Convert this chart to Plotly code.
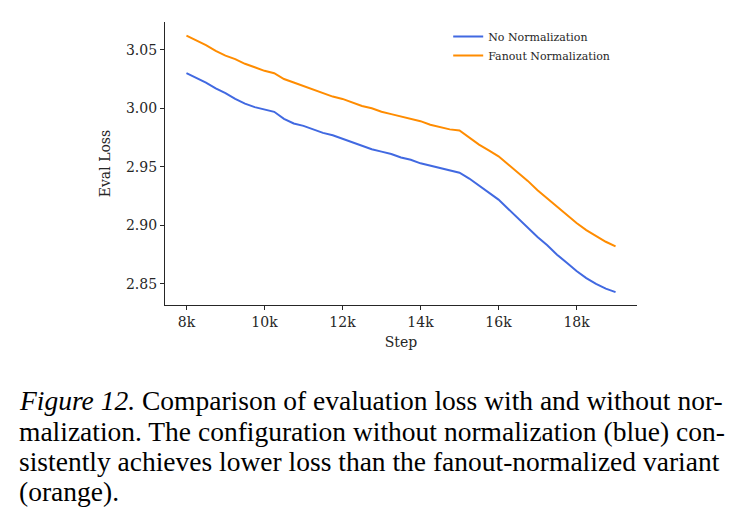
import plotly.graph_objects as go

steps = [8000 + 250 * i for i in range(45)]

no_norm = [3.030, 3.026, 3.022, 3.017, 3.013, 3.008, 3.004, 3.001, 2.999, 2.997,
           2.991, 2.987, 2.985, 2.982, 2.979, 2.977, 2.974, 2.971, 2.968, 2.965,
           2.963, 2.961, 2.958, 2.956, 2.953, 2.951, 2.949, 2.947, 2.945, 2.940,
           2.934, 2.928, 2.922, 2.914, 2.906, 2.898, 2.890, 2.883, 2.875, 2.868,
           2.861, 2.855, 2.850, 2.846, 2.843]

fanout_norm = [3.062, 3.058, 3.054, 3.049, 3.045, 3.042, 3.038, 3.035, 3.032, 3.030,
               3.025, 3.022, 3.019, 3.016, 3.013, 3.010, 3.008, 3.005, 3.002, 3.000,
               2.997, 2.995, 2.993, 2.991, 2.989, 2.986, 2.984, 2.982, 2.981, 2.975,
               2.969, 2.964, 2.959, 2.952, 2.945, 2.938, 2.930, 2.923, 2.916, 2.909,
               2.902, 2.896, 2.891, 2.886, 2.882]

x_tickvals = [8000, 10000, 12000, 14000, 16000, 18000]
x_ticktext = ["8k", "10k", "12k", "14k", "16k", "18k"]
y_tickvals = [2.85, 2.90, 2.95, 3.00, 3.05]
y_ticktext = ["2.85", "2.90", "2.95", "3.00", "3.05"]

caption_lines = [
    "<i>Figure 12.</i> Comparison of evaluation loss with and without nor-",
    "malization. The configuration without normalization (blue) con-",
    "sistently achieves lower loss than the fanout-normalized variant",
    "(orange).",
]

FONT = "'DejaVu Serif', serif"
CAPFONT = "'Liberation Serif', 'Times New Roman', serif"

fig = go.Figure()
fig.add_trace(go.Scatter(x=steps, y=no_norm, mode="lines", name="No Normalization",
                         line=dict(color="#4169E1", width=2)))
fig.add_trace(go.Scatter(x=steps, y=fanout_norm, mode="lines", name="Fanout Normalization",
                         line=dict(color="#FF8C00", width=2)))

axis_common = dict(showgrid=False, zeroline=False, showline=True, linecolor="#262626",
                   linewidth=1.2, ticks="outside", ticklen=4, tickwidth=1.2,
                   tickcolor="#262626", mirror=False,
                   tickfont=dict(family=FONT, size=14, color="#262626"))

fig.update_layout(
    width=739, height=518,
    margin=dict(l=165, r=102, t=22, b=213),
    paper_bgcolor="white", plot_bgcolor="white",
    font=dict(family=FONT, color="#262626"),
    xaxis=dict(range=[7450, 19550], tickvals=x_tickvals, ticktext=x_ticktext,
               title=dict(text="Step", font=dict(family=FONT, size=14), standoff=8),
               **axis_common),
    yaxis=dict(range=[2.832, 3.0737], tickvals=y_tickvals, ticktext=y_ticktext,
               title=dict(text="Eval Loss", font=dict(family=FONT, size=14), standoff=12),
               **axis_common),
    legend=dict(x=0.6, y=1.0, xanchor="left", yanchor="top",
                font=dict(family=FONT, size=11, color="#262626"),
                bgcolor="rgba(255,255,255,0)", tracegroupgap=0),
    showlegend=True,
)

caption_y = [400, 431, 461, 491]
for line, yp in zip(caption_lines, caption_y):
    fig.add_annotation(text=line, xref="paper", yref="paper",
                       x=(17 - 165) / 472, y=(305 - yp) / 283,
                       xanchor="left", yanchor="middle", showarrow=False,
                       font=dict(family=CAPFONT, size=27.5, color="black"))

fig.write_html("out.html")
